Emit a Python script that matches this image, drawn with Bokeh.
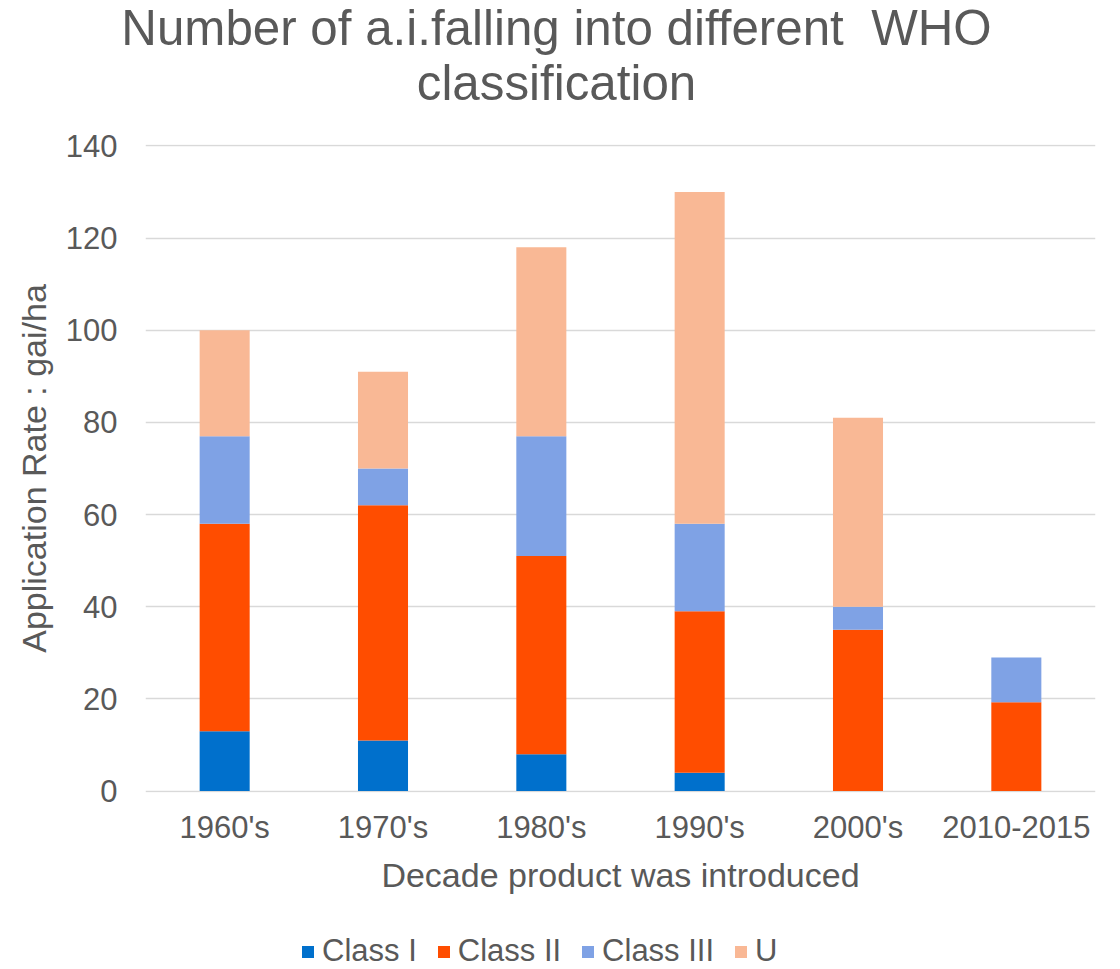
from bokeh.plotting import figure
from bokeh.layouts import column
from bokeh.models import Range1d, FactorRange, SingleIntervalTicker, Div, ColumnDataSource
from bokeh.embed import file_html
from bokeh.resources import INLINE

# Decades and application rate (gai/ha) per WHO class
decades = ["1960's", "1970's", "1980's", "1990's", "2000's", "2010-2015"]
class_i = [13, 11, 8, 4, 0, 0]
class_ii = [45, 51, 43, 35, 35, 19.3]
class_iii = [19, 8, 26, 19, 5, 9.7]
class_u = [23, 21, 41, 72, 41, 0]

series = ["Class I", "Class II", "Class III", "U"]
colors = ["#0070CC", "#FF4D00", "#7FA2E5", "#F9B895"]

title_lines = ["Number of a.i.falling into different  WHO", "classification"]

FONT = "Liberation Sans"
TXT = "#595959"
W = 1120
LEFT, RIGHT = 145, 25
FRAME_W = W - LEFT - RIGHT

# Chart title, two centred lines
title = Div(text="<br>".join(title_lines), width=W, height=120, margin=0,
            styles={"font-family": FONT, "font-size": "49.3px", "line-height": "55px",
                    "color": TXT, "text-align": "center", "white-space": "pre",
                    "padding-right": "7px", "box-sizing": "border-box"})

source = ColumnDataSource({"decade": decades, "Class I": class_i, "Class II": class_ii,
                           "Class III": class_iii, "U": class_u})

p = figure(x_range=FactorRange(*decades, range_padding=0),
           y_range=Range1d(-0.3, 140.3),
           frame_width=FRAME_W, frame_height=648,
           output_backend="svg", toolbar_location=None,
           min_border_left=LEFT, min_border_right=RIGHT,
           min_border_top=24, min_border_bottom=125)
p.title = None
p.outline_line_color = None

p.vbar_stack(series, x="decade", width=0.316, color=colors,
             line_color=None, source=source)

# Axes
p.yaxis.ticker = SingleIntervalTicker(interval=20)
for ax in (p.xaxis[0], p.yaxis[0]):
    ax.axis_line_color = None
    ax.major_tick_line_color = None
    ax.minor_tick_line_color = None
    ax.major_tick_out = 0
    ax.major_tick_in = 0
    ax.minor_tick_out = 0
    ax.minor_tick_in = 0
    ax.major_label_text_font = FONT
    ax.major_label_text_font_size = "31px"
    ax.major_label_text_color = TXT
    ax.axis_label_text_font = FONT
    ax.axis_label_text_font_size = "34px"
    ax.axis_label_text_font_style = "normal"
    ax.axis_label_text_color = TXT

p.yaxis.axis_label = "Application Rate : gai/ha"
p.yaxis.major_label_standoff = 28
p.yaxis.axis_label_standoff = 10
p.xaxis.axis_label = "Decade product was introduced"
p.xaxis.major_label_standoff = 17
p.xaxis.axis_label_standoff = 8

# Grid
p.xgrid.grid_line_color = None
p.ygrid.grid_line_color = "#D9D9D9"
p.ygrid.grid_line_width = 1.5

# Legend strip under the chart; its zero-width stack sits outside the strip's
# visible range, so only the legend entries show
b = figure(frame_width=FRAME_W, frame_height=52,
           x_range=FactorRange(*decades, range_padding=0), y_range=Range1d(1000, 1001),
           x_axis_location=None, y_axis_location=None,
           output_backend="svg", toolbar_location=None,
           min_border_left=LEFT, min_border_right=RIGHT,
           min_border_top=0, min_border_bottom=0)
b.title = None
b.grid.visible = False
b.outline_line_color = None
b.vbar_stack(series, x="decade", width=0, color=colors, line_color=None,
             source=source, legend_label=series)

lg = b.legend[0]
lg.orientation = "horizontal"
lg.location = (155, 0)
lg.glyph_width = 15
lg.glyph_height = 15
lg.label_standoff = 7
lg.spacing = 19
lg.padding = 0
lg.margin = 0
lg.border_line_color = None
lg.background_fill_alpha = 0
lg.label_text_font = FONT
lg.label_text_font_size = "31px"
lg.label_text_color = TXT

layout = column(title, p, b, spacing=0)
open("out.html", "w").write(file_html(layout, INLINE))
